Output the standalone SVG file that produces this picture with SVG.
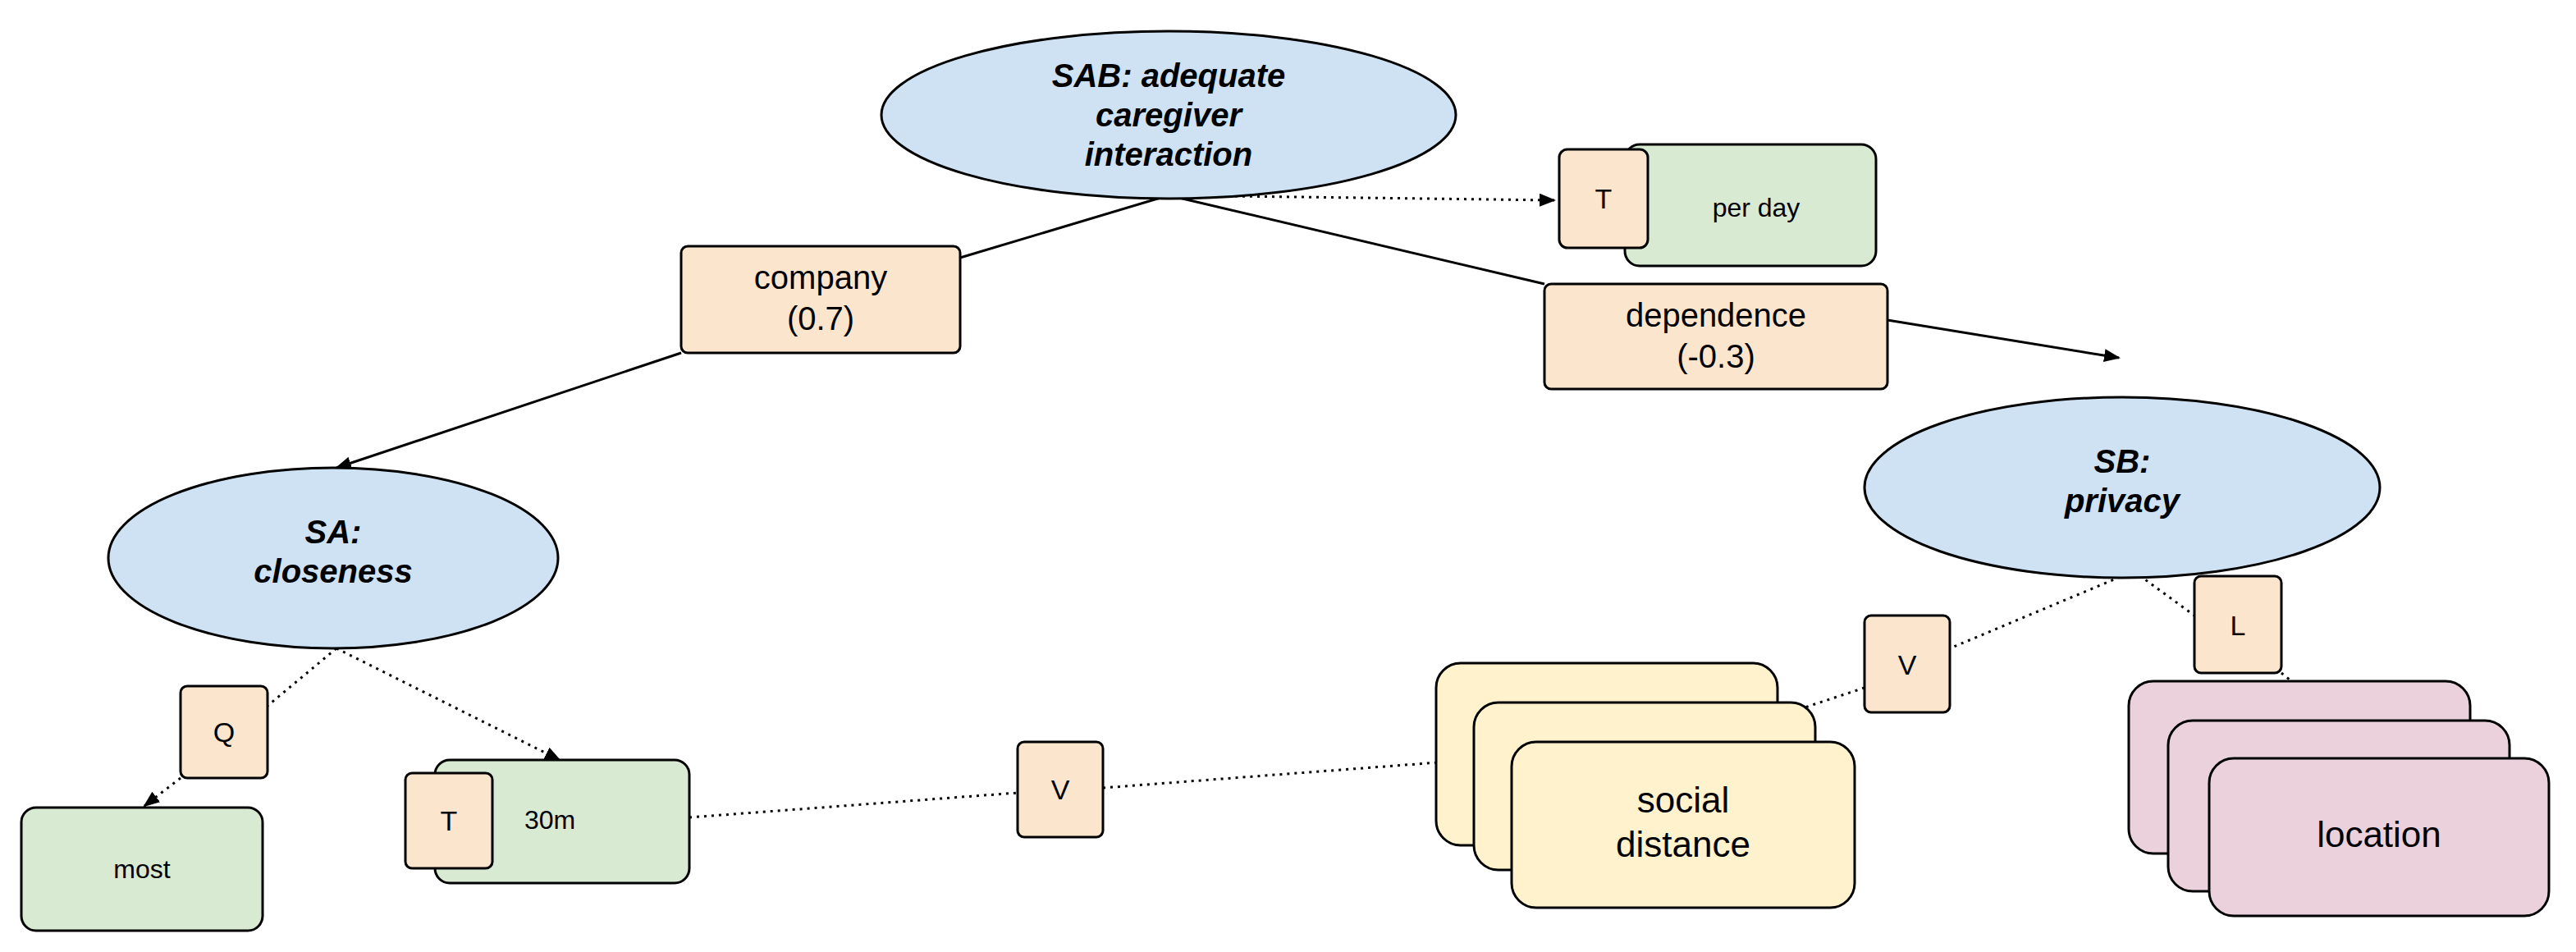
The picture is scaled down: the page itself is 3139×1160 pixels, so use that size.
<svg xmlns="http://www.w3.org/2000/svg" width="3139" height="1160" viewBox="0 0 3139 1160">
<style>
text{font-family:"Liberation Sans",Arial,sans-serif;fill:#000;text-anchor:middle}
.e{fill:#cfe2f3;stroke:#000;stroke-width:3}
.o{fill:#fce5cd;stroke:#000;stroke-width:3}
.g{fill:#d9ead3;stroke:#000;stroke-width:3}
.y{fill:#fff2cc;stroke:#000;stroke-width:3}
.p{fill:#ead1dc;stroke:#000;stroke-width:3}
.b{font-weight:bold;font-style:italic;font-size:40px}
.s{stroke:#000;stroke-width:3;fill:none}
.d{stroke:#000;stroke-width:3;fill:none;stroke-dasharray:3 6}
</style>
<defs><marker id="a" viewBox="0 0 10 10" refX="9" refY="5" markerWidth="7" markerHeight="7" orient="auto" markerUnits="userSpaceOnUse"><path d="M0,0L10,5L0,10z"/></marker>
<marker id="m" viewBox="0 0 10 10" refX="9" refY="5" markerWidth="20" markerHeight="20" orient="auto" markerUnits="userSpaceOnUse"><path d="M0,1L10,5L0,9z"/></marker></defs>
<g id="connectors">
<path class="s" d="M1424,238L1170,314"/>
<path class="s" d="M830,430L410,570" marker-end="url(#m)"/>
<path class="s" d="M1424,238L1882,346"/>
<path class="s" d="M2300,390L2582,436" marker-end="url(#m)"/>
<path class="d" d="M1424,238L1894,244" marker-end="url(#m)"/>
<path class="d" d="M410,790L326,860"/>
<path class="d" d="M220,948L176,982" marker-end="url(#m)"/>
<path class="d" d="M410,790L682,926" marker-end="url(#m)"/>
<path class="d" d="M840,996L1240,966"/>
<path class="d" d="M1344,960L2056,906" marker-end="url(#m)"/>
<path class="d" d="M2600,696L2376,790"/>
<path class="d" d="M2272,838L2060,908" marker-end="url(#m)"/>
<path class="d" d="M2600,696L2674,750"/>
<path class="d" d="M2780,820L2900,918" marker-end="url(#m)"/>
</g>
<g id="SAB"><ellipse class="e" cx="1424" cy="140" rx="350" ry="102"/>
<text class="b" x="1424" y="106">SAB: adequate</text><text class="b" x="1424" y="154">caregiver</text><text class="b" x="1424" y="202">interaction</text></g>
<g id="perday"><rect class="g" x="1980" y="176" width="306" height="148" rx="18"/><text x="2140" y="264" font-size="32">per day</text>
<rect class="o" x="1900" y="182" width="108" height="120" rx="10"/><text x="1954" y="254" font-size="34">T</text></g>
<g id="company"><rect class="o" x="830" y="300" width="340" height="130" rx="8"/><text x="1000" y="352" font-size="40">company</text><text x="1000" y="402" font-size="40">(0.7)</text></g>
<g id="dependence"><rect class="o" x="1882" y="346" width="418" height="128" rx="8"/><text x="2091" y="398" font-size="40">dependence</text><text x="2091" y="448" font-size="40">(-0.3)</text></g>
<g id="SB"><ellipse class="e" cx="2586" cy="594" rx="314" ry="110"/><text class="b" x="2586" y="576">SB:</text><text class="b" x="2586" y="624">privacy</text></g>
<g id="SA"><ellipse class="e" cx="406" cy="680" rx="274" ry="110"/><text class="b" x="406" y="662">SA:</text><text class="b" x="406" y="710">closeness</text></g>
<g id="Q"><rect class="o" x="220" y="836" width="106" height="112" rx="8"/><text x="273" y="904" font-size="34">Q</text></g>
<g id="most"><rect class="g" x="26" y="984" width="294" height="150" rx="18"/><text x="173" y="1070" font-size="32">most</text></g>
<g id="t30m"><rect class="g" x="530" y="926" width="310" height="150" rx="18"/><text x="670" y="1010" font-size="32">30m</text>
<rect class="o" x="494" y="942" width="106" height="116" rx="8"/><text x="547" y="1012" font-size="34">T</text></g>
<g id="V1"><rect class="o" x="1240" y="904" width="104" height="116" rx="8"/><text x="1292" y="974" font-size="34">V</text></g>
<g id="social"><rect class="y" x="1750" y="808" width="416" height="222" rx="30"/><rect class="y" x="1796" y="856" width="416" height="204" rx="30"/><rect class="y" x="1842" y="904" width="418" height="202" rx="30"/>
<text x="2051" y="990" font-size="44">social</text><text x="2051" y="1044" font-size="44">distance</text></g>
<g id="V2"><rect class="o" x="2272" y="750" width="104" height="118" rx="8"/><text x="2324" y="822" font-size="34">V</text></g>
<g id="L"><rect class="o" x="2674" y="702" width="106" height="118" rx="8"/><text x="2727" y="774" font-size="34">L</text></g>
<g id="location"><rect class="p" x="2594" y="830" width="416" height="210" rx="30"/><rect class="p" x="2642" y="878" width="416" height="208" rx="30"/><rect class="p" x="2692" y="924" width="414" height="192" rx="30"/>
<text x="2899" y="1032" font-size="44">location</text></g>
</svg>
